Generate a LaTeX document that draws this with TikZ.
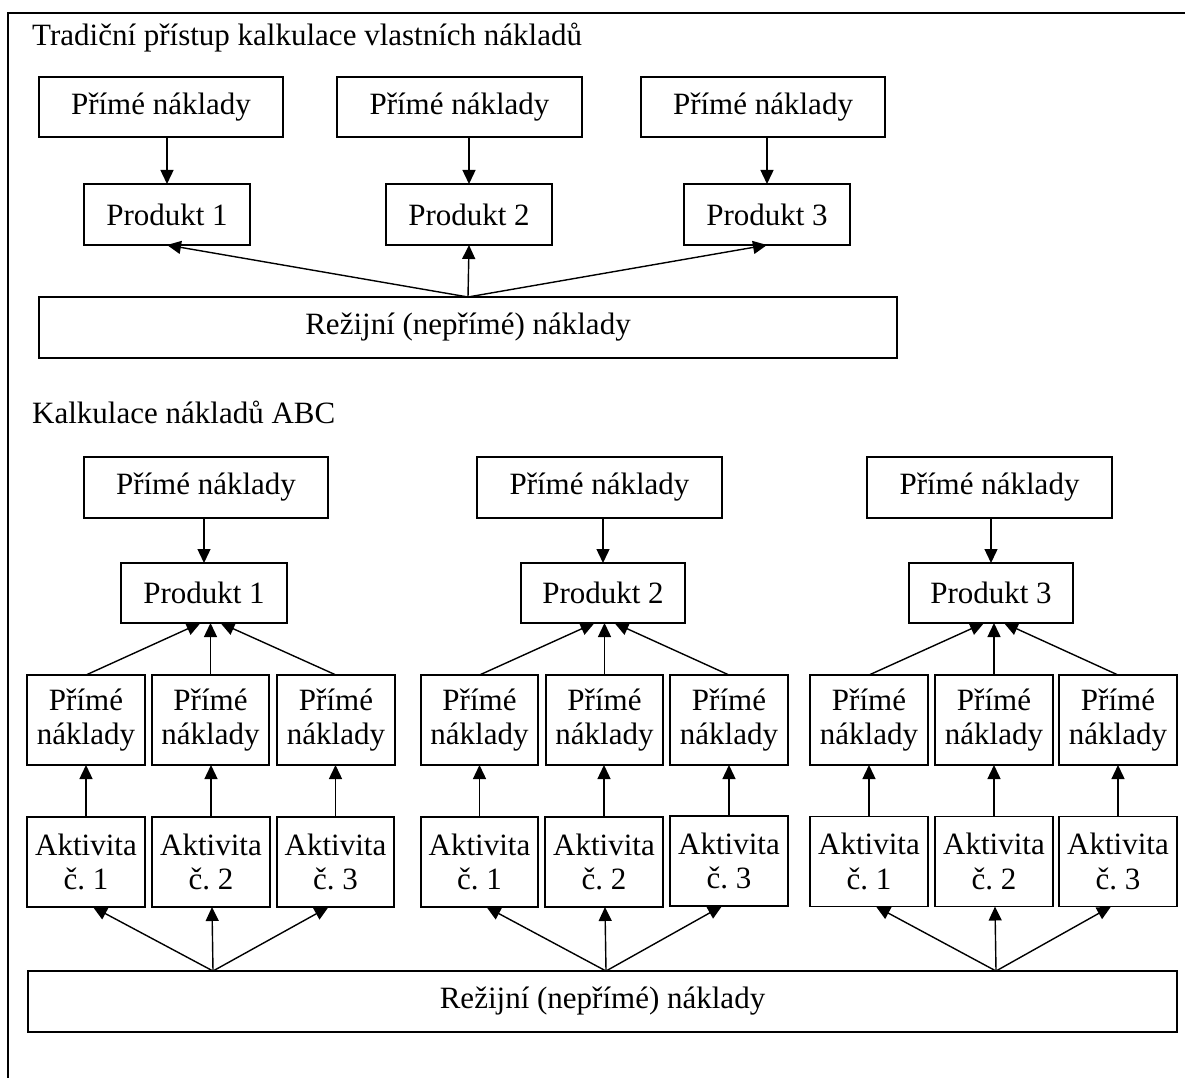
\documentclass[tikz,border=0pt]{standalone}
\usepackage{fontspec}
\setmainfont{Liberation Serif}
\usetikzlibrary{arrows.meta,calc}
\frenchspacing
\begin{document}
\begin{tikzpicture}[x=1pt,y=-1pt,
  box/.style={draw, line width=1.4pt, inner sep=0pt, outer sep=0pt, align=center,
    font=\fontsize{31}{34.5}\selectfont},
  arr/.style={-{Triangle[length=14pt,width=13pt]}, line width=1.4pt},
  ttl/.style={anchor=base west, inner sep=0pt, font=\fontsize{31}{34.5}\selectfont}]
\useasboundingbox (0,0) rectangle (1185,1078);
% frame
\draw[line width=1.4pt] (8,1078) -- (8,13) -- (1185,13);

% ---- traditional ----
\node[ttl] (title1) at (32,46) {Tradiční přístup kalkulace vlastních nákladů};
\node[box, minimum width=244, minimum height=60] (tpn1) at (161,107) {Přímé náklady};
\node[box, minimum width=245, minimum height=60] (tpn2) at (459.5,107) {Přímé náklady};
\node[box, minimum width=244, minimum height=60] (tpn3) at (763,107) {Přímé náklady};
\node[box, minimum width=166, minimum height=61] (tp1) at (167,214.5) {Produkt 1};
\node[box, minimum width=166, minimum height=61] (tp2) at (469,214.5) {Produkt 2};
\node[box, minimum width=166, minimum height=61] (tp3) at (767,214.5) {Produkt 3};
\node[box, minimum width=858, minimum height=61] (tr) at (468,327.5) {Režijní (nepřímé) náklady};
\foreach \i in {1,2,3} {
  \draw[arr] (tpn\i.south -| tp\i.north) -- (tp\i.north);
  \draw[arr] (tr.north) -- (tp\i.south);
}

% ---- ABC ----
\node[ttl] (title2) at (32,423) {Kalkulace nákladů ABC};
\node[box, minimum width=1149, minimum height=61] (br) at (602.5,1001.5) {Režijní (nepřímé) náklady};

% group 1
\node[box, minimum width=244, minimum height=61] (pn1) at (206,487.5) {Přímé náklady};
\node[box, minimum width=166, minimum height=60] (p1) at (204,593) {Produkt 1};
\node[box, minimum width=118, minimum height=90] (s11) at (86,720) {Přímé\\náklady};
\node[box, minimum width=117, minimum height=90] (s12) at (210.5,720) {Přímé\\náklady};
\node[box, minimum width=118, minimum height=90] (s13) at (336,720) {Přímé\\náklady};
\node[box, minimum width=118, minimum height=90] (a11) at (86,862) {Aktivita\\č. 1};
\node[box, minimum width=118, minimum height=90] (a12) at (211,862) {Aktivita\\č. 2};
\node[box, minimum width=117, minimum height=90] (a13) at (335.5,862) {Aktivita\\č. 3};
% group 2
\node[box, minimum width=245, minimum height=61] (pn2) at (599.5,487.5) {Přímé náklady};
\node[box, minimum width=164, minimum height=60] (p2) at (603,593) {Produkt 2};
\node[box, minimum width=117, minimum height=90] (s21) at (479.5,720) {Přímé\\náklady};
\node[box, minimum width=117, minimum height=90] (s22) at (604.5,720) {Přímé\\náklady};
\node[box, minimum width=118, minimum height=90] (s23) at (729,720) {Přímé\\náklady};
\node[box, minimum width=117, minimum height=90] (a21) at (479.5,862) {Aktivita\\č. 1};
\node[box, minimum width=118, minimum height=90] (a22) at (604,862) {Aktivita\\č. 2};
\node[box, minimum width=118, minimum height=90] (a23) at (729,861) {Aktivita\\č. 3};
% group 3
\node[box, minimum width=245, minimum height=61] (pn3) at (989.5,487.5) {Přímé náklady};
\node[box, minimum width=164, minimum height=60] (p3) at (991,593) {Produkt 3};
\node[box, minimum width=118, minimum height=90] (s31) at (869,720) {Přímé\\náklady};
\node[box, minimum width=118, minimum height=90] (s32) at (994,720) {Přímé\\náklady};
\node[box, minimum width=118, minimum height=90] (s33) at (1118,720) {Přímé\\náklady};
\node[box, minimum width=118, minimum height=90] (a31) at (869,861.5) {Aktivita\\č. 1};
\node[box, minimum width=118, minimum height=90] (a32) at (994,861.5) {Aktivita\\č. 2};
\node[box, minimum width=118, minimum height=90] (a33) at (1118,861.5) {Aktivita\\č. 3};

\foreach \g in {1,2,3} {
  \draw[arr] (pn\g.south -| p\g.north) -- (p\g.north);
  \coordinate (m\g) at (s\g2.north |- p\g.south);
  \draw[arr] (s\g1.north) -- ($(m\g)+(-10,0)$);
  \draw[arr] (s\g2.north) -- (m\g);
  \draw[arr] (s\g3.north) -- ($(m\g)+(10,0)$);
  \foreach \k in {1,2,3} {
    \draw[arr] (a\g\k.north) -- (a\g\k.north |- s\g\k.south);
  }
  \coordinate (f\g) at ($(a\g2.north |- br.north)+(2,0)$);
  \draw[arr] (f\g) -- ($(a\g1.south)+(7,0)$);
  \draw[arr] (f\g) -- ($(a\g2.south)+(1,0)$);
  \draw[arr] (f\g) -- ($(a\g3.south)+(-7,0)$);
}
\end{tikzpicture}
\end{document}
